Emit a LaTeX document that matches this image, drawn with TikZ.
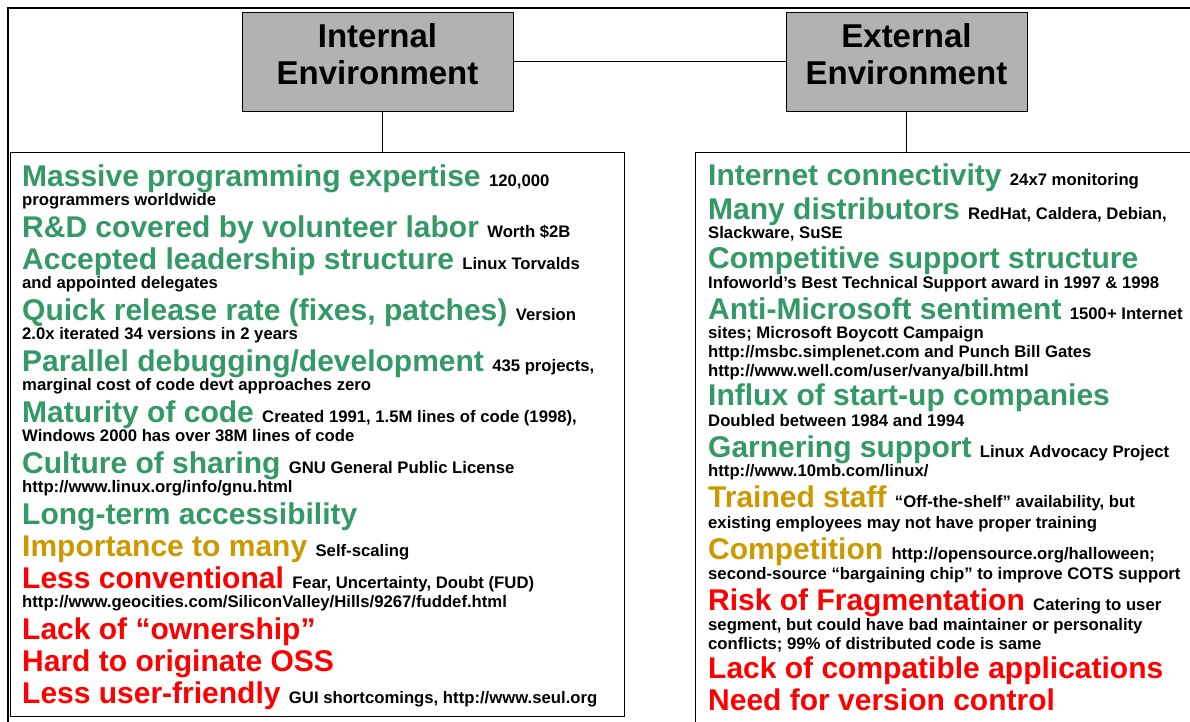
\documentclass[tikz,border=0pt]{standalone}
\usepackage{fontspec}
\setmainfont{Liberation Sans}
\definecolor{grn}{HTML}{339966}
\definecolor{gld}{HTML}{CC9900}
\definecolor{rd}{HTML}{FF0000}
\definecolor{titlegray}{HTML}{B2B2B2}
\newcommand\HG[1]{{\color{grn}#1}}
\newcommand\HY[1]{{\color{gld}#1}}
\newcommand\HR[1]{{\color{rd}#1}}
\newcommand\SM[1]{{\color{black}\fontsize{16.7}{19}\selectfont #1}}
\begin{document}
\begin{tikzpicture}[x=1pt,y=-1pt,
  txt/.style={anchor=base west, inner sep=0pt, font=\bfseries\fontsize{30}{32}\selectfont},
  titlebox/.style={draw=black, line width=1pt, fill=titlegray, align=center, inner sep=0pt,
    minimum height=99pt, font=\bfseries\fontsize{33}{37}\selectfont},
  panel/.style={draw=black, line width=1.1pt, anchor=north west, inner sep=0pt},
  link/.style={draw=black, line width=0.9pt}]
\clip (0,0) rectangle (1190,721);
\fill[white] (0,0) rectangle (1190,721);
% outer frame
\coordinate (fA) at (8,730);
\coordinate (fB) at (8,8);
\coordinate (fC) at (1200,8);
\draw[line width=2.6pt] (fA) -- (fB) -- (fC);
% title boxes
\node[titlebox, minimum width=271pt] (int) at (377.5,61.5) {Internal\\Environment\rule[-15pt]{0pt}{15pt}};
\node[titlebox, minimum width=241pt] (ext) at (906.5,61.5) {External\\Environment\rule[-15pt]{0pt}{15pt}};
% panels
\node[panel, minimum width=614pt, minimum height=564pt] (lp) at (10,152) {};
\node[panel, minimum width=530pt, minimum height=600pt] (rp) at (695,152) {};
% connectors
\draw[link] (int.east) -- (ext.west);
\draw[link] ([xshift=4.5pt]int.south) -- ([xshift=4.5pt]int.south |- lp.north);
\draw[link] (ext.south) -- (ext.south |- rp.north);
% left texts
\node[txt] (l1) at (22,186) {\HG{Massive programming expertise} \SM{120,000}};
\node[txt] (l1s) at (22,205) {\SM{programmers worldwide}};
\node[txt] (l2) at (22,237) {\HG{R\&D covered by volunteer labor} \SM{Worth \$2B}};
\node[txt] (l3) at (22,269) {\HG{Accepted leadership structure} \SM{Linux Torvalds}};
\node[txt] (l3s) at (22,288) {\SM{and appointed delegates}};
\node[txt] (l4) at (22,320) {\HG{Quick release rate (fixes, patches)} \SM{Version}};
\node[txt] (l4s) at (22,339) {\SM{2.0x iterated 34 versions in 2 years}};
\node[txt] (l5) at (22,371) {\HG{Parallel debugging/development} \SM{435 projects,}};
\node[txt] (l5s) at (22,390) {\SM{marginal cost of code devt approaches zero}};
\node[txt] (l6) at (22,422) {\HG{Maturity of code} \SM{Created 1991, 1.5M lines of code (1998),}};
\node[txt] (l6s) at (22,441) {\SM{Windows 2000 has over 38M lines of code}};
\node[txt] (l7) at (22,473) {\HG{Culture of sharing} \SM{GNU General Public License}};
\node[txt] (l7s) at (22,492) {\SM{http://www.linux.org/info/gnu.html}};
\node[txt] (l8) at (22,524) {\HG{Long-term accessibility}};
\node[txt] (l9) at (22,556) {\HY{Importance to many} \SM{Self-scaling}};
\node[txt] (l10) at (22,588) {\HR{Less conventional} \SM{Fear, Uncertainty, Doubt (FUD)}};
\node[txt] (l10s) at (22,607) {\SM{http://www.geocities.com/SiliconValley/Hills/9267/fuddef.html}};
\node[txt] (l11) at (22,639) {\HR{Lack of “ownership”}};
\node[txt] (l12) at (22,671) {\HR{Hard to originate OSS}};
\node[txt] (l13) at (22,703) {\HR{Less user-friendly} \SM{GUI shortcomings, http://www.seul.org}};
% right texts
\node[txt] (r1) at (708,185) {\HG{Internet connectivity} \SM{24x7 monitoring}};
\node[txt] (r2) at (708,219) {\HG{Many distributors} \SM{RedHat, Caldera, Debian,}};
\node[txt] (r2s) at (708,238) {\SM{Slackware, SuSE}};
\node[txt] (r3) at (708,268) {\HG{Competitive support structure}};
\node[txt] (r3s) at (708,288) {\SM{Infoworld’s Best Technical Support award in 1997 \& 1998}};
\node[txt] (r4) at (708,319) {\HG{Anti-Microsoft sentiment} \SM{1500+ Internet}};
\node[txt] (r4s) at (708,338) {\SM{sites; Microsoft Boycott Campaign}};
\node[txt] (r4t) at (708,357) {\SM{http://msbc.simplenet.com and Punch Bill Gates}};
\node[txt] (r4u) at (708,376) {\SM{http://www.well.com/user/vanya/bill.html}};
\node[txt] (r5) at (708,405) {\HG{Influx of start-up companies}};
\node[txt] (r5s) at (708,426) {\SM{Doubled between 1984 and 1994}};
\node[txt] (r6) at (708,457) {\HG{Garnering support} \SM{Linux Advocacy Project}};
\node[txt] (r6s) at (708,476) {\SM{http://www.10mb.com/linux/}};
\node[txt] (r7) at (708,507) {\HY{Trained staff} \SM{“Off-the-shelf” availability, but}};
\node[txt] (r7s) at (708,528) {\SM{existing employees may not have proper training}};
\node[txt] (r8) at (708,559) {\HY{Competition} \SM{http://opensource.org/halloween;}};
\node[txt] (r8s) at (708,579) {\SM{second-source “bargaining chip” to improve COTS support}};
\node[txt] (r9) at (708,610) {\HR{Risk of Fragmentation} \SM{Catering to user}};
\node[txt] (r9s) at (708,630) {\SM{segment, but could have bad maintainer or personality}};
\node[txt] (r9t) at (708,649) {\SM{conflicts; 99\% of distributed code is same}};
\node[txt] (r10) at (708,678) {\HR{Lack of compatible applications}};
\node[txt] (r11) at (708,710) {\HR{Need for version control}};
\end{tikzpicture}
\end{document}
